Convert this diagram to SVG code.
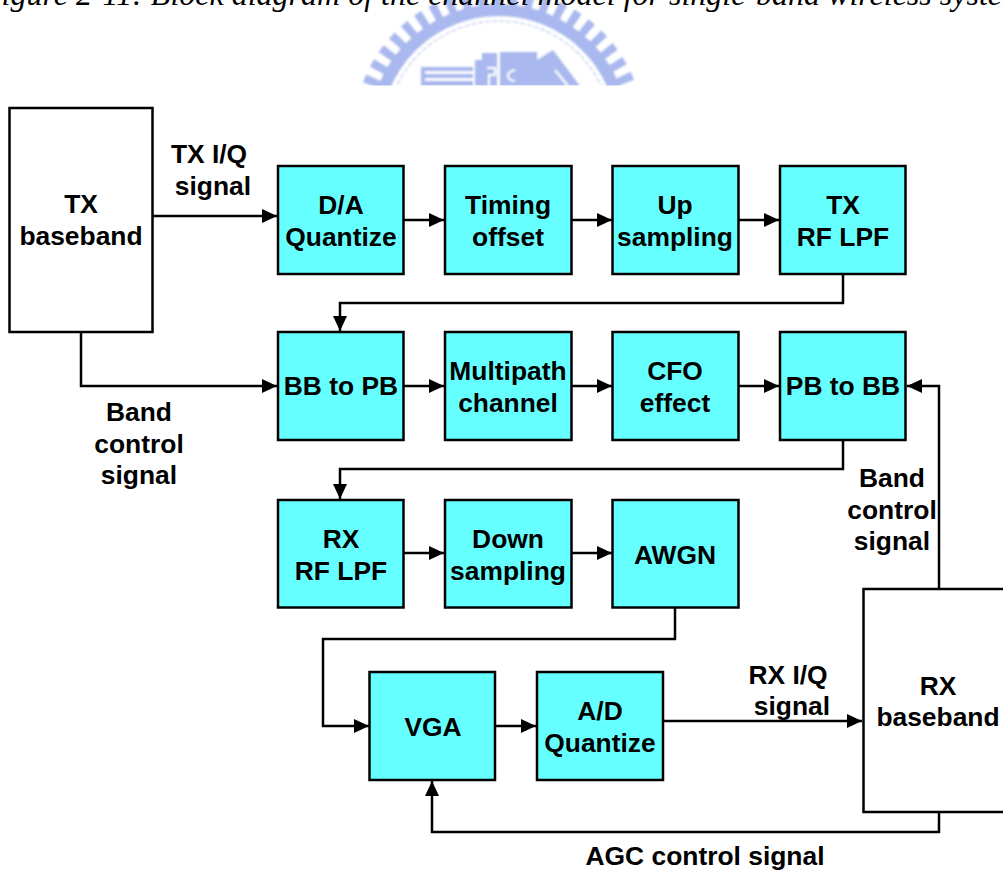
<svg xmlns="http://www.w3.org/2000/svg" width="1003" height="870" viewBox="0 0 1003 870">
<style>
.b{fill:#66ffff;stroke:#000;stroke-width:2.5}
.w{fill:#fff;stroke:#000;stroke-width:2.5}
text{font-family:"Liberation Sans",Arial,sans-serif;font-weight:bold;font-size:26.4px;fill:#000;text-anchor:middle}
.cap{font-family:"Liberation Serif","Times New Roman",serif;font-weight:normal;font-style:italic;font-size:32px;text-anchor:start}
.c path{fill:none;stroke:#000;stroke-width:2.5;marker-end:url(#a)}
.lg{fill:#a9b8ee}
</style>
<defs>
<marker id="a" markerUnits="userSpaceOnUse" markerWidth="16" markerHeight="16" refX="15" refY="8" orient="auto"><path d="M0 1L15 8L0 15z" fill="#000"/></marker>
<clipPath id="lc"><rect x="300" y="0" width="400" height="85.500"/></clipPath>
<filter id="bl" x="-5%" y="-5%" width="110%" height="110%"><feGaussianBlur stdDeviation="1"/></filter>
</defs>
<rect width="1003" height="870" fill="#fff"/>
<g id="watermark" clip-path="url(#lc)"><g filter="url(#bl)">
<circle cx="499" cy="134" r="137" fill="none" stroke="#a9b8ee" stroke-width="17" stroke-dasharray="8 8"/>
<circle cx="499" cy="134" r="124" fill="none" stroke="#a9b8ee" stroke-width="12"/>
<circle cx="499" cy="134" r="113" fill="none" stroke="#ccd4f2" stroke-width="1.500" stroke-dasharray="5 2"/>
<path class="lg" d="M421 67H473V71H425V74H473V78H425V81H473V86H421zM475 60H482V53H497V86H475zM500 52H537V86H500zM537 86V60L553 50L580 86z"/>
<path d="M487 68H495V75H489V86M515 70C505 72 506 80 515 81M555 70L568 86" fill="none" stroke="#fff" stroke-width="2"/>
</g></g>
<text class="cap" x="-18" y="5">Figure 2-11: Block diagram of the channel model for single-band wireless system</text>
<g id="connectors" class="c">
<path d="M152 216H277"/>
<path d="M403 220H444"/>
<path d="M571 220H612"/>
<path d="M738 220H779"/>
<path d="M843 274V303H340V331"/>
<path d="M81 332V386H277"/>
<path d="M403 386H444"/>
<path d="M571 386H612"/>
<path d="M738 386H779"/>
<path d="M843 440V469H340V499"/>
<path d="M403 553H444"/>
<path d="M571 553H612"/>
<path d="M675 607V639H323V726H369"/>
<path d="M495 726H536"/>
<path d="M663 721H862"/>
<path d="M939 812V832H432V781"/>
<path d="M939 589V386H907"/>
</g>
<g id="tx-baseband"><rect class="w" x="9.500" y="108" width="143" height="224"/><text x="81" y="213">TX</text><text x="81" y="245">baseband</text></g>
<g id="da"><rect class="b" x="278" y="166" width="125.500" height="108"/><text x="341" y="214">D/A</text><text x="341" y="246">Quantize</text></g>
<g id="timing"><rect class="b" x="445" y="166" width="126.500" height="108"/><text x="508" y="214">Timing</text><text x="508" y="246">offset</text></g>
<g id="up"><rect class="b" x="612.500" y="166" width="126" height="108"/><text x="675" y="214">Up</text><text x="675" y="246">sampling</text></g>
<g id="txlpf"><rect class="b" x="780" y="166" width="125.500" height="108"/><text x="843" y="214">TX</text><text x="843" y="246">RF LPF</text></g>
<g id="bb2pb"><rect class="b" x="278" y="332" width="125.500" height="108"/><text x="341" y="395">BB to PB</text></g>
<g id="multipath"><rect class="b" x="445" y="332" width="126.500" height="108"/><text x="508" y="380">Multipath</text><text x="508" y="412">channel</text></g>
<g id="cfo"><rect class="b" x="612.500" y="332" width="126" height="108"/><text x="675" y="380">CFO</text><text x="675" y="412">effect</text></g>
<g id="pb2bb"><rect class="b" x="780" y="332" width="125.500" height="108"/><text x="843" y="395">PB to BB</text></g>
<g id="rxlpf"><rect class="b" x="278" y="500" width="125.500" height="107.500"/><text x="341" y="548">RX</text><text x="341" y="580">RF LPF</text></g>
<g id="down"><rect class="b" x="445" y="500" width="126.500" height="107.500"/><text x="508" y="548">Down</text><text x="508" y="580">sampling</text></g>
<g id="awgn"><rect class="b" x="612.500" y="500" width="126" height="107.500"/><text x="675" y="564">AWGN</text></g>
<g id="vga"><rect class="b" x="369.500" y="672" width="125.500" height="108"/><text x="433" y="736">VGA</text></g>
<g id="ad"><rect class="b" x="537" y="672" width="126" height="108"/><text x="600" y="720">A/D</text><text x="600" y="752">Quantize</text></g>
<g id="rx-baseband"><rect class="w" x="863.500" y="589" width="150" height="223"/><text x="938" y="695">RX</text><text x="938" y="726">baseband</text></g>
<g id="labels">
<text x="209" y="163">TX I/Q</text><text x="213" y="195">signal</text>
<text x="139" y="421">Band</text><text x="139" y="453">control</text><text x="139" y="484">signal</text>
<text x="892" y="487">Band</text><text x="892" y="519">control</text><text x="892" y="550">signal</text>
<text x="788" y="684">RX I/Q</text><text x="792" y="715">signal</text>
<text x="705" y="865">AGC control signal</text>
</g>
</svg>
